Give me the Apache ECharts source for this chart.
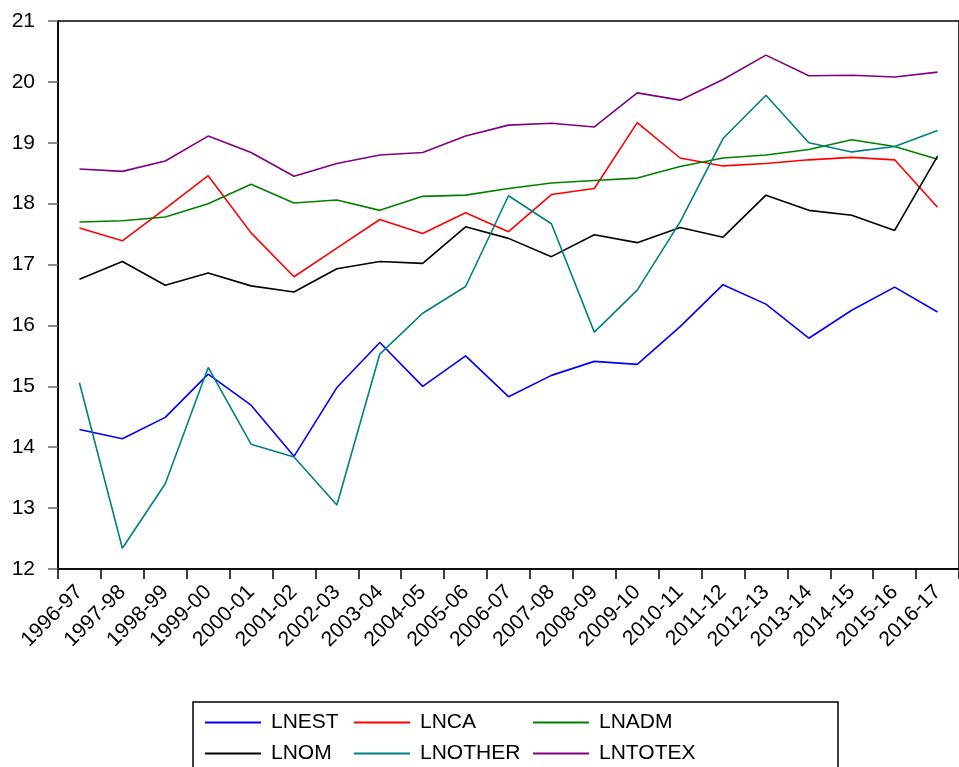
<!DOCTYPE html>
<html>
<head>
<meta charset="utf-8">
<script src="https://cdn.jsdelivr.net/npm/echarts@6/dist/echarts.min.js"></script>
<style>html,body{margin:0;padding:0;background:#fff;}#c{width:959px;height:767px;}</style>
</head>
<body>
<div id="c"></div>
<script>
const categories = ["1996-97","1997-98","1998-99","1999-00","2000-01","2001-02","2002-03","2003-04","2004-05","2005-06","2006-07","2007-08","2008-09","2009-10","2010-11","2011-12","2012-13","2013-14","2014-15","2015-16","2016-17"];
const LNEST   = [14.29,14.14,14.49,15.20,14.69,13.85,14.98,15.72,15.00,15.50,14.83,15.18,15.41,15.36,15.98,16.67,16.35,15.79,16.25,16.63,16.22];
const LNCA    = [17.60,17.39,17.92,18.46,17.52,16.80,17.27,17.74,17.51,17.85,17.54,18.15,18.25,19.33,18.75,18.62,18.66,18.72,18.76,18.72,17.94];
const LNADM   = [17.70,17.72,17.78,18.00,18.32,18.01,18.06,17.89,18.12,18.14,18.25,18.34,18.38,18.42,18.61,18.75,18.80,18.89,19.05,18.94,18.73];
const LNOM    = [16.76,17.05,16.66,16.86,16.65,16.55,16.93,17.05,17.02,17.62,17.43,17.13,17.49,17.36,17.61,17.45,18.14,17.89,17.81,17.56,18.78];
const LNOTHER = [15.06,12.34,13.40,15.31,14.05,13.84,13.05,15.53,16.20,16.64,18.13,17.67,15.89,16.58,17.70,19.07,19.78,19.00,18.85,18.94,19.20];
const LNTOTEX = [18.57,18.53,18.70,19.11,18.84,18.45,18.66,18.80,18.84,19.11,19.29,19.32,19.26,19.82,19.70,20.04,20.44,20.10,20.11,20.08,20.16];
const yTicks = [12,13,14,15,16,17,18,19,20,21];

const seriesDefs = [
  ["LNEST", LNEST, "#0000ff"],
  ["LNCA", LNCA, "#ff0000"],
  ["LNADM", LNADM, "#008000"],
  ["LNOM", LNOM, "#000000"],
  ["LNOTHER", LNOTHER, "#008080"],
  ["LNTOTEX", LNTOTEX, "#800080"]
];

const font = "'Liberation Sans', Arial, sans-serif";
const chart = echarts.init(document.getElementById('c'), null, {renderer: 'canvas'});
const legendBase = {
  orient: 'vertical', top: 712, itemWidth: 56, itemHeight: 2, icon: 'rect', itemGap: 10,
  textStyle: {fontFamily: font, fontSize: 21, color: '#000', lineHeight: 20, padding: [0,0,0,5]},
  padding: 0, selectedMode: false
};
chart.setOption({
  animation: false,
  backgroundColor: '#fff',
  grid: {left: 58, right: -8, top: 21, bottom: 198, show: true, borderColor: '#000', borderWidth: 1.5, containLabel: false},
  xAxis: {
    type: 'category', data: categories, boundaryGap: true,
    axisLine: {show: true, lineStyle: {color: '#000', width: 1.5}},
    axisTick: {show: true, length: 10, lineStyle: {color: '#000', width: 1.5}},
    axisLabel: {rotate: 45, fontFamily: font, fontSize: 21, color: '#000', margin: 20, interval: 0},
    splitLine: {show: false}
  },
  yAxis: {
    type: 'value', min: yTicks[0], max: yTicks[yTicks.length-1], interval: 1,
    axisLine: {show: true, lineStyle: {color: '#000', width: 1.5}},
    axisTick: {show: true, length: 10, lineStyle: {color: '#666', width: 1.5}},
    axisLabel: {fontFamily: font, fontSize: 21, color: '#000', margin: 23},
    splitLine: {show: false}
  },
  legend: [
    Object.assign({}, legendBase, {left: 205, data: ["LNEST","LNOM"]}),
    Object.assign({}, legendBase, {left: 354, data: ["LNCA","LNOTHER"]}),
    Object.assign({}, legendBase, {left: 533, data: ["LNADM","LNTOTEX"]})
  ],
  graphic: [{
    type: 'rect', shape: {x: 193, y: 702, width: 645, height: 80},
    style: {fill: 'none', stroke: '#000', lineWidth: 1.5}, silent: true
  }],
  series: seriesDefs.map(([name, data, color]) => ({
    name, type: 'line', data, showSymbol: false, symbol: 'none', smooth: false,
    lineStyle: {color, width: 1.6}, itemStyle: {color}
  }))
});
</script>
</body>
</html>
